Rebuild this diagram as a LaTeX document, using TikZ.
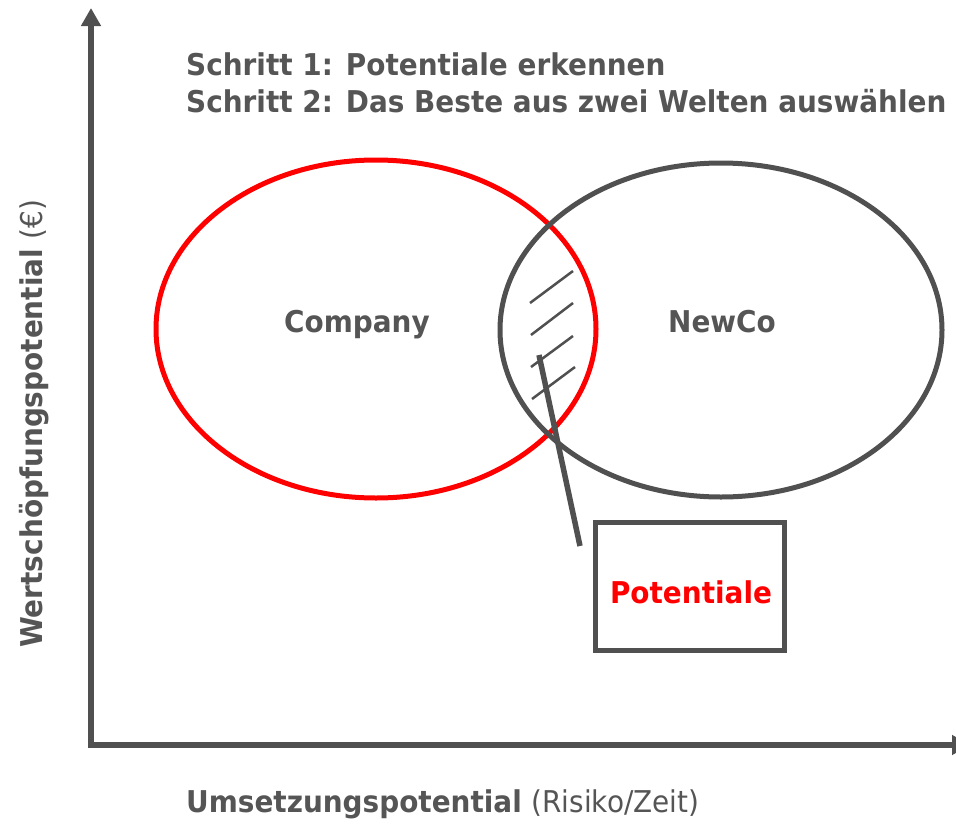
\documentclass[tikz,border=0pt]{standalone}
\usepackage{fontspec}
\setmainfont{DejaVu Sans}[FakeStretch=0.93]
\usetikzlibrary{arrows.meta}
\definecolor{dgray}{HTML}{505050}
\definecolor{tgray}{HTML}{555555}
\definecolor{vred}{HTML}{FF0000}
\tikzset{
  axis/.style={draw=dgray, line width=5.5pt, -{Triangle[length=18pt,width=19pt]}},
  ell/.style={line width=5pt},
  hatch/.style={draw=dgray, line width=2.5pt},
  lbl/.style={text=tgray, font=\bfseries\fontsize{30}{34}\selectfont, inner sep=0pt},
  boxst/.style={draw=dgray, line width=5pt, minimum width=189pt, minimum height=128pt, inner sep=0pt},
}
\begin{document}
\begin{tikzpicture}[x=1pt,y=-1pt]
\useasboundingbox (0,0) rectangle (956,825);
% axes
\coordinate (ytop) at (91,8);
\coordinate (xend) at (970,745);
\draw[axis] (91,748) -- (ytop);
\draw[axis] (88,745) -- (xend);
% ellipses
\draw[ell, draw=vred] (376,329) ellipse [x radius=220, y radius=169];
\draw[ell, draw=dgray] (721,330) ellipse [x radius=221, y radius=167];
% hatch
\coordinate (h1a) at (530,303); \coordinate (h1b) at (573,271);
\coordinate (h2a) at (531,335); \coordinate (h2b) at (573,303);
\coordinate (h3a) at (531,367); \coordinate (h3b) at (573,336);
\coordinate (h4a) at (532,399); \coordinate (h4b) at (575,367);
\draw[hatch] (h1a) -- (h1b);
\draw[hatch] (h2a) -- (h2b);
\draw[hatch] (h3a) -- (h3b);
\draw[hatch] (h4a) -- (h4b);
% box
\node[boxst] (box) at (689.5,586) {};
\node[lbl, text=vred, anchor=base] (pot) at (691,603) {Potentiale};
\coordinate (c1) at (539,355);
\coordinate (c2) at (580,546);
\draw[draw=dgray, line width=5.5pt] (c1) -- (c2);
% labels
\node[lbl, anchor=base] (comp) at (357,332) {Company};
\node[lbl, anchor=base] (newco) at (722,332) {NewCo};
\node[lbl, anchor=base west] (t1) at (186,75) {Schritt 1: Potentiale erkennen};
\node[lbl, anchor=base west] (t2) at (186,112) {Schritt 2: Das Beste aus zwei Welten auswählen};
\node[lbl, anchor=base west] (xl) at (186,812) {Umsetzungspotential \mdseries(Risiko/Zeit)};
\node[lbl, anchor=base west, rotate=90] (yl) at (42,648) {Wertschöpfungspotential \mdseries(€)};
\end{tikzpicture}
\end{document}
